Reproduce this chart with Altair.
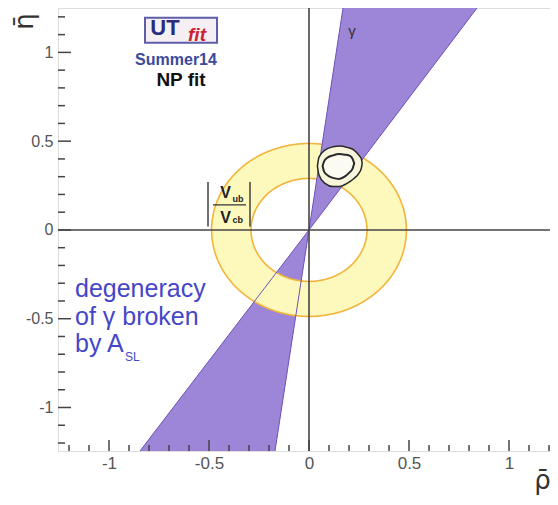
import altair as alt
import numpy as np
import pandas as pd

# ---------------- data ----------------
RHO_DOMAIN = [-1.255, 1.205]
ETA_DOMAIN = [-1.245, 1.25]

# gamma constraint (two opposite wedges through the origin)
gamma_up_eta = [0.0, 1.25]
gamma_up_rho_left = [0.0, 0.17]
gamma_up_rho_right = [0.0, 0.84]
gamma_dn_eta = [-1.245, 0.0]
gamma_dn_rho_left = [-0.845, 0.0]
gamma_dn_rho_right = [-0.17, 0.0]

# |Vub/Vcb| ring radii
ring_inner = 0.29
ring_outer = 0.487

# fit contours (vertical slices: rho, lower eta, upper eta)
c95_rho = [0.042, 0.05, 0.08, 0.12, 0.155, 0.19, 0.225, 0.25, 0.262, 0.266]
c95_lo = [0.36, 0.31, 0.262, 0.244, 0.245, 0.262, 0.29, 0.32, 0.35, 0.375]
c95_hi = [0.36, 0.41, 0.45, 0.468, 0.473, 0.465, 0.45, 0.42, 0.40, 0.375]
c68_rho = [0.068, 0.075, 0.09, 0.12, 0.15, 0.18, 0.205, 0.218, 0.226]
c68_lo = [0.36, 0.33, 0.31, 0.293, 0.287, 0.302, 0.327, 0.345, 0.375]
c68_hi = [0.36, 0.385, 0.405, 0.42, 0.428, 0.424, 0.417, 0.40, 0.375]

# axis ticks
x_major = [-1, -0.5, 0, 0.5, 1]
x_minor = [-1.2, -1.1, -0.9, -0.8, -0.7, -0.6, -0.4, -0.3, -0.2, -0.1,
           0.1, 0.2, 0.3, 0.4, 0.6, 0.7, 0.8, 0.9, 1.1, 1.2]
y_major = [-1, -0.5, 0, 0.5, 1]
y_minor = [-1.2, -1.1, -0.9, -0.8, -0.7, -0.6, -0.4, -0.3, -0.2, -0.1,
           0.1, 0.2, 0.3, 0.4, 0.6, 0.7, 0.8, 0.9, 1.1, 1.2]

# texts
degeneracy_lines = ["degeneracy", "of γ broken", "by A"]
degeneracy_rho = [-1.17, -1.17, -1.17]
degeneracy_eta = [-0.376, -0.535, -0.688]

# ---------------- construction ----------------
W, H = 492, 443
FONT = "Liberation Sans"
xs = alt.Scale(domain=RHO_DOMAIN, nice=False, zero=False)
ys = alt.Scale(domain=ETA_DOMAIN, nice=False, zero=False)

x_axis = alt.Axis(values=x_major, ticks=False, domain=False, grid=False,
                  labelExpr="'' + datum.value", labelFont=FONT, labelFontSize=17,
                  labelColor="#555555", labelPadding=4,
                  title="ρ̄", titleFont="DejaVu Sans", titleFontSize=26,
                  titleFontWeight="normal", titleColor="#333333",
                  titleX=484, titleY=37, titleAlign="center", titleBaseline="alphabetic")
y_axis = alt.Axis(values=y_major, ticks=False, domain=False, grid=False,
                  labelExpr="'' + datum.value", labelFont=FONT, labelFontSize=16,
                  labelColor="#555555", labelPadding=5,
                  title="η̄", titleFont="DejaVu Sans", titleFontSize=26,
                  titleFontWeight="normal", titleColor="#333333",
                  titleX=-34, titleY=13, titleAlign="center", titleBaseline="middle",
                  titleAngle=270)


def X(f):
    return alt.X(f, type="quantitative", scale=xs, axis=x_axis)


def Y(f):
    return alt.Y(f, type="quantitative", scale=ys, axis=y_axis)


purple = "#9d85d7"
purple_edge = "#6c52b8"
ring_fill = "#fdf9bd"
ring_edge = "#f2b43a"
frame = "#444444"

# axis carrier layer (invisible points at the domain corners)
axes_layer = alt.Chart(pd.DataFrame({"rho": RHO_DOMAIN, "eta": ETA_DOMAIN})).mark_point(
    opacity=0).encode(x=X("rho"), y=Y("eta"))

# lower gamma wedge
dn = pd.DataFrame({"eta": gamma_dn_eta, "l": gamma_dn_rho_left, "r": gamma_dn_rho_right})
wedge_dn = alt.Chart(dn).mark_area(color=purple, opacity=1, orient="horizontal").encode(
    y=Y("eta"), x=X("l"), x2="r")

# ring fill (two half rings)
t = np.linspace(0, np.pi, 361)
rho_samples = np.unique(np.concatenate([ring_outer * np.cos(t), ring_inner * np.cos(t)]))
rho_samples = rho_samples[np.abs(rho_samples) <= ring_outer]
outer_h = np.sqrt(np.clip(ring_outer ** 2 - rho_samples ** 2, 0, None))
inner_h = np.sqrt(np.clip(ring_inner ** 2 - rho_samples ** 2, 0, None))
ring_df = pd.DataFrame({"rho": rho_samples, "up_o": outer_h, "up_i": inner_h,
                        "dn_o": -outer_h, "dn_i": -inner_h})
ring_up = alt.Chart(ring_df).mark_area(color=ring_fill, opacity=1).encode(
    x=X("rho"), y=Y("up_o"), y2="up_i")
ring_dn = alt.Chart(ring_df).mark_area(color=ring_fill, opacity=1).encode(
    x=X("rho"), y=Y("dn_o"), y2="dn_i")

# ring outlines
tt = np.linspace(0, 2 * np.pi, 721)
circ = pd.concat([
    pd.DataFrame({"rho": ring_outer * np.cos(tt), "eta": ring_outer * np.sin(tt),
                  "i": np.arange(tt.size), "which": "outer"}),
    pd.DataFrame({"rho": ring_inner * np.cos(tt), "eta": ring_inner * np.sin(tt),
                  "i": np.arange(tt.size), "which": "inner"}),
])
ring_lines = alt.Chart(circ).mark_line(color=ring_edge, strokeWidth=1.6).encode(
    x=X("rho"), y=Y("eta"), order="i:Q", detail="which:N")

# upper gamma wedge
up = pd.DataFrame({"eta": gamma_up_eta, "l": gamma_up_rho_left, "r": gamma_up_rho_right})
wedge_up = alt.Chart(up).mark_area(color=purple, opacity=1, orient="horizontal").encode(
    y=Y("eta"), x=X("l"), x2="r")

# wedge edges
edges = pd.DataFrame({
    "x0": [0, 0, 0, 0],
    "y0": [0, 0, 0, 0],
    "x1": [gamma_up_rho_left[1], gamma_up_rho_right[1], gamma_dn_rho_left[0], gamma_dn_rho_right[0]],
    "y1": [gamma_up_eta[1], gamma_up_eta[1], gamma_dn_eta[0], gamma_dn_eta[0]],
})
wedge_edges = alt.Chart(edges).mark_rule(color=purple_edge, strokeWidth=1).encode(
    x=X("x0"), y=Y("y0"), x2="x1", y2="y1")

# contours
c95 = pd.DataFrame({"rho": c95_rho, "lo": c95_lo, "hi": c95_hi})
c68 = pd.DataFrame({"rho": c68_rho, "lo": c68_lo, "hi": c68_hi})
cont95 = alt.Chart(c95).mark_area(fill="#f7f5da", stroke="#2a2a2a", strokeWidth=1.5,
                                  opacity=1, interpolate="monotone").encode(
    x=X("rho"), y=Y("hi"), y2="lo")
cont68 = alt.Chart(c68).mark_area(fill="#fbfbf2", stroke="#2a2a2a", strokeWidth=2,
                                  opacity=1, interpolate="monotone").encode(
    x=X("rho"), y=Y("hi"), y2="lo")

# zero lines
zx = alt.Chart(pd.DataFrame({"v": [0]})).mark_rule(color=frame, strokeWidth=1.6).encode(x=X("v"))
zy = alt.Chart(pd.DataFrame({"v": [0]})).mark_rule(color=frame, strokeWidth=1.6).encode(y=Y("v"))

# ticks (inward)
xt_major = alt.Chart(pd.DataFrame({"v": x_major})).mark_rule(color=frame, strokeWidth=1.5).encode(
    x=X("v"), y=alt.value(H), y2=alt.value(H - 11))
xt_minor = alt.Chart(pd.DataFrame({"v": x_minor})).mark_rule(color=frame, strokeWidth=1.5).encode(
    x=X("v"), y=alt.value(H), y2=alt.value(H - 6))
yt_major = alt.Chart(pd.DataFrame({"v": y_major})).mark_rule(color=frame, strokeWidth=1.5).encode(
    y=Y("v"), x=alt.value(0), x2=alt.value(13))
yt_minor = alt.Chart(pd.DataFrame({"v": y_minor})).mark_rule(color=frame, strokeWidth=1.5).encode(
    y=Y("v"), x=alt.value(0), x2=alt.value(7))


def txt(rho, eta, text, **kw):
    df = pd.DataFrame({"rho": [rho], "eta": [eta], "t": [text]})
    return alt.Chart(df).mark_text(**kw).encode(x=X("rho"), y=Y("eta"), text="t:N")


# logo
logo_box = alt.Chart(pd.DataFrame({"x0": [-0.82], "x1": [-0.46], "y0": [1.195], "y1": [1.054]})).mark_rect(
    fill="#f5eff3", stroke="#5d5daa", strokeWidth=2).encode(x=X("x0"), x2="x1", y=Y("y0"), y2="y1")
logo_ut = txt(-0.72, 1.099, "UT", font=FONT, fontSize=22, fontWeight="bold", color="#2b2b7e",
              align="center", baseline="alphabetic")
logo_fit = txt(-0.56, 1.066, "fit", font=FONT, fontSize=19, fontWeight="bold", fontStyle="italic",
               color="#cf2230", align="center", baseline="alphabetic")
summer = txt(-0.665, 0.958, "Summer14", font=FONT, fontSize=16, fontWeight="bold", color="#3b4a9c",
             align="center", baseline="middle")
npfit = txt(-0.64, 0.845, "NP fit", font=FONT, fontSize=19, fontWeight="bold", color="#111111",
            align="center", baseline="middle")

gamma_lbl = txt(0.215, 1.12, "γ", font=FONT, fontSize=15, color="#333333", align="center",
                baseline="middle")

# |Vub/Vcb|
vbars = alt.Chart(pd.DataFrame({"x": [-0.505, -0.295], "y0": [0.02, 0.02], "y1": [0.27, 0.27]})).mark_rule(
    color="#333333", strokeWidth=1.4).encode(x=X("x"), y=Y("y0"), y2="y1")
vfrac = alt.Chart(pd.DataFrame({"x0": [-0.48], "x1": [-0.315], "y": [0.141]})).mark_rule(
    color="#333333", strokeWidth=1.2).encode(x=X("x0"), x2="x1", y=Y("y"))
v_up = txt(-0.4175, 0.18, "V", font=FONT, fontSize=16, fontWeight="bold", color="#222222",
           align="center", baseline="alphabetic")
v_ub = txt(-0.383, 0.158, "ub", font=FONT, fontSize=9, fontWeight="bold", color="#222222",
           align="left", baseline="alphabetic")
v_dn = txt(-0.4175, 0.039, "V", font=FONT, fontSize=16, fontWeight="bold", color="#222222",
           align="center", baseline="alphabetic")
v_cb = txt(-0.383, 0.037, "cb", font=FONT, fontSize=9, fontWeight="bold", color="#222222",
           align="left", baseline="alphabetic")

# degeneracy text
deg_df = pd.DataFrame({"rho": degeneracy_rho, "eta": degeneracy_eta, "t": degeneracy_lines})
deg = alt.Chart(deg_df).mark_text(font=FONT, fontSize=25, color="#4646c8", align="left",
                                  baseline="alphabetic").encode(x=X("rho"), y=Y("eta"), text="t:N")
asl = txt(-0.92, -0.737, "SL", font=FONT, fontSize=12, color="#4646c8", align="left",
          baseline="alphabetic")

chart = alt.layer(
    axes_layer,
    wedge_dn, ring_up, ring_dn, ring_lines, wedge_up, wedge_edges, cont95, cont68,
    zx, zy, xt_major, xt_minor, yt_major, yt_minor,
    logo_box, logo_ut, logo_fit, summer, npfit, gamma_lbl,
    vbars, vfrac, v_up, v_ub, v_dn, v_cb, deg, asl,
).properties(
    width=W, height=H,
    autosize=alt.AutoSizeParams(type="none"),
    padding={"left": 50, "top": 0, "right": 0, "bottom": 44},
).configure_view(stroke=frame, strokeWidth=2).configure(background="white")

chart.save("out.html", embed_options={"renderer": "svg", "actions": False})
